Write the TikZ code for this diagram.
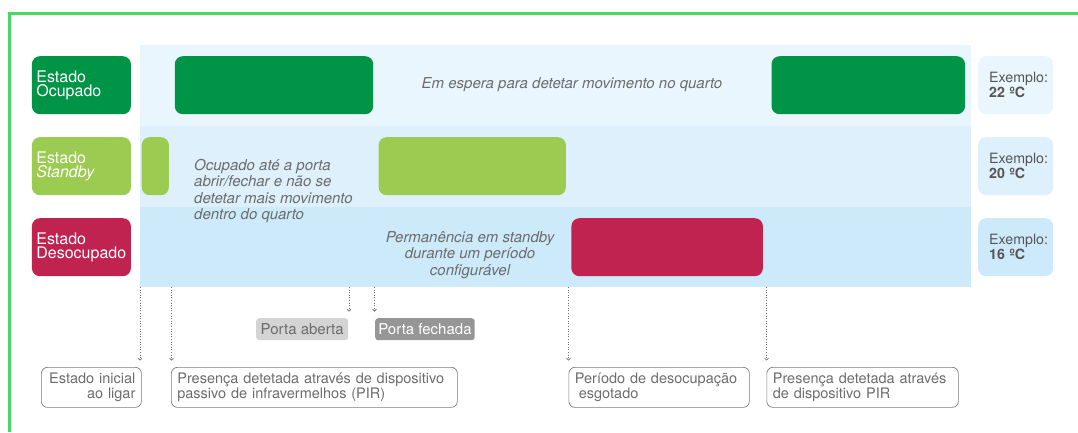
\documentclass[tikz,border=0pt]{standalone}
\usepackage{fontspec}
\setmainfont{TeX Gyre Heros}
\usetikzlibrary{arrows.meta}
\definecolor{frameg}{RGB}{76,214,100}
\definecolor{ocupg}{RGB}{0,148,70}
\definecolor{standg}{RGB}{155,203,80}
\definecolor{desocr}{RGB}{193,35,80}
\definecolor{rowa}{RGB}{234,246,253}
\definecolor{rowb}{RGB}{221,240,252}
\definecolor{rowc}{RGB}{205,234,251}
\definecolor{txtg}{RGB}{108,108,108}
\definecolor{tempg}{RGB}{85,85,85}
\definecolor{portclara}{RGB}{212,212,212}
\definecolor{portescura}{RGB}{150,150,150}
\tikzset{
  bar/.style={rounded corners=8pt, minimum height=58pt, inner sep=0pt, anchor=north west},
  state/.style={bar, minimum width=99pt, text width=90pt, inner xsep=4.5pt, align=left, text=white, font=\fontsize{16}{14.5}\selectfont},
  exemplo/.style={bar, minimum width=75pt, text width=53pt, inner xsep=11pt, align=left, text=tempg, font=\fontsize{14.2}{15}\selectfont},
  remark/.style={text=txtg, inner sep=0pt, font=\fontsize{15}{16.3}\selectfont\itshape},
  porta/.style={rounded corners=3pt, minimum height=22pt, inner sep=0pt, anchor=north west, font=\fontsize{15}{15}\selectfont},
  evento/.style={draw=txtg!90, line width=0.7pt, rounded corners=6pt, minimum height=40pt, inner xsep=6pt, inner ysep=0pt, anchor=north west, align=left, text=txtg, font=\fontsize{14.5}{15}\selectfont},
  link/.style={dotted, draw=txtg, line width=0.6pt, -{Straight Barb[length=2pt,width=4pt]}, shorten >=6.5pt}
}

\begin{document}
\begin{tikzpicture}[x=1pt,y=-1pt]
  \useasboundingbox (0,0) rectangle (1078,432);
  \draw [frameg, line width=3pt] (9,432) -- (9,13) -- (1078,13);
  % rows
  \fill [rowa] (140,45) rectangle (971,126);
  \fill [rowb] (140,126) rectangle (971,207);
  \fill [rowc] (140,207) rectangle (971,287);
  % states
  \node [state, fill=ocupg] (ocupado) at (31.7,56) {Estado\\Ocupado};
  \node [state, fill=standg] (standby) at (31.7,137) {Estado\\\textit{Standby}};
  \node [state, fill=desocr] (desocupado) at (31.7,218) {Estado\\Desocupado};
  \node [bar, fill=ocupg, minimum width=198.4pt] (ocup1) at (174.6,56) {};
  \node [bar, fill=ocupg, minimum width=193.5pt] (ocup2) at (771.3,56) {};
  \node [bar, fill=standg, minimum width=27.2pt] (stand1) at (141.5,137) {};
  \node [bar, fill=standg, minimum width=187.3pt] (stand2) at (378.4,137) {};
  \node [bar, fill=desocr, minimum width=191.5pt] (desoc1) at (571.2,218) {};
  \node [exemplo, fill=rowa] (temp22) at (978,56) {Exemplo:\\\textbf{22 ºC}};
  \node [exemplo, fill=rowb] (temp20) at (978,137) {Exemplo:\\\textbf{20 ºC}};
  \node [exemplo, fill=rowc] (temp16) at (978,218) {Exemplo:\\\textbf{16 ºC}};
  \node [remark] (espera) at (572,85) {Em espera para detetar movimento no quarto};
  \node [remark, anchor=west, align=left] (ocupnota) at (194,191) {Ocupado até a porta\\abrir/fechar e não se\\detetar mais movimento\\dentro do quarto};
  \node [remark, align=center] (permnota) at (470,255) {Permanência em standby\\durante um período\\configurável};
  % events
  \node [porta, fill=portclara, text=txtg, minimum width=92pt] (aberta) at (256,318) {Porta aberta};
  \node [porta, fill=portescura, text=white, minimum width=99.5pt] (fechada) at (375,318) {Porta fechada};
  \node [evento, text width=88pt, align=right] (inicial) at (41,367) {Estado inicial\\ao ligar};
  \node [evento, text width=274pt] (presenca) at (171,367) {Presença detetada através de dispositivo\\passivo de infravermelhos (PIR)};
  \node [evento, text width=168.5pt] (periodo) at (568.5,367) {Período de desocupação\\\hspace{4pt}esgotado};
  \node [evento, text width=179.5pt] (pir) at (766.5,367) {Presença detetada através\\de dispositivo PIR};
  \coordinate (t1) at (140,287);
  \coordinate (t2) at (171.5,287);
  \coordinate (t3) at (349,287);
  \coordinate (t4) at (374.5,287);
  \coordinate (t5) at (568.5,287);
  \coordinate (t6) at (766.5,287);
  \draw [link] (t1) -- (t1 |- inicial.north);
  \draw [link] (t2) -- (t2 |- presenca.north);
  \draw [link] (t3) -- (t3 |- aberta.north);
  \draw [link] (t4) -- (t4 |- fechada.north);
  \draw [link] (t5) -- (t5 |- periodo.north);
  \draw [link] (t6) -- (t6 |- pir.north);
\end{tikzpicture}
\end{document}
